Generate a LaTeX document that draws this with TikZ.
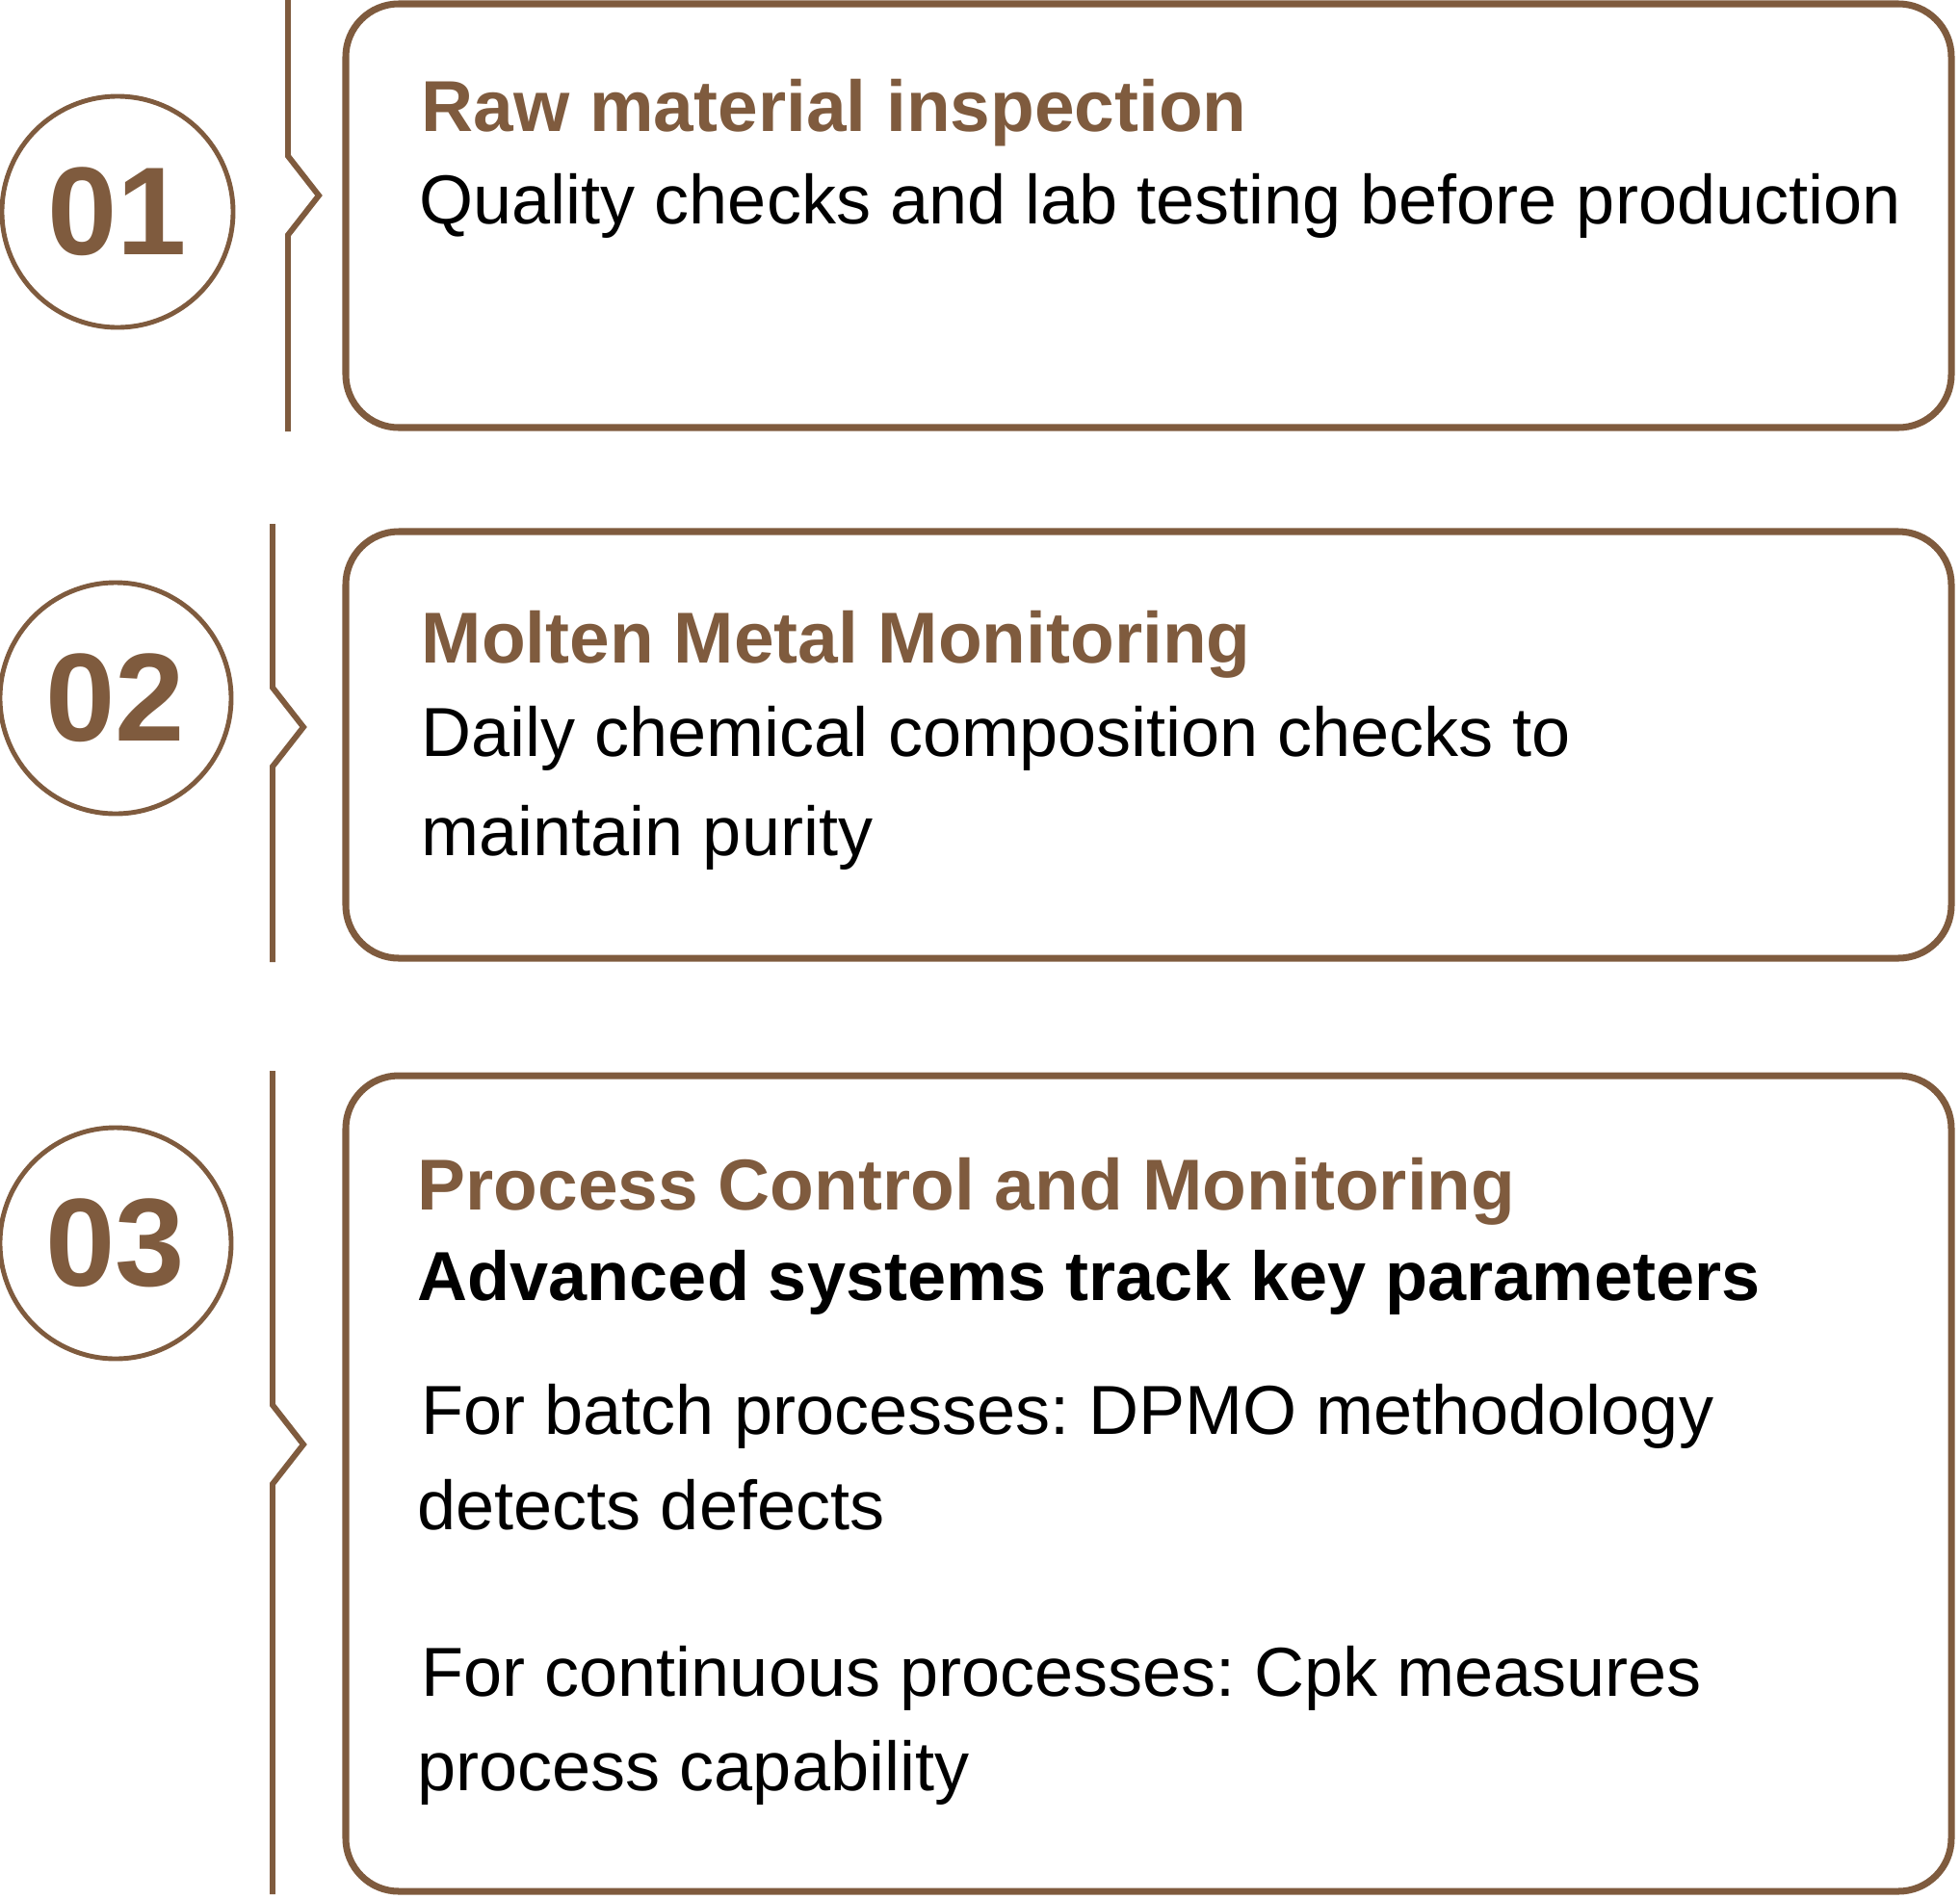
\documentclass[tikz,border=0pt]{standalone}
\usepackage{fontspec}
\setmainfont{Liberation Sans}
\usepackage{tikz}
\usetikzlibrary{positioning}
\definecolor{bronze}{RGB}{127,91,62}
\tikzset{
  card/.style={
    draw=bronze,
    line width=2pt,
    rounded corners=5.5mm
  },
  stepnum/.style={
    circle,
    draw=bronze,
    line width=1.4pt,
    minimum size=24mm,
    inner sep=0pt,
    text=bronze,
    font=\fontsize{37}{37}\selectfont\bfseries
  },
  cardtitle/.style={
    anchor=base west,
    inner sep=0pt,
    text=bronze,
    font=\fontsize{21.3}{25}\selectfont\bfseries
  },
  cardtext/.style={
    anchor=base west,
    inner sep=0pt,
    text=black,
    font=\fontsize{20.5}{25}\selectfont\frenchspacing
  },
  cardlead/.style={
    cardtext,
    font=\fontsize{20.5}{25}\selectfont\bfseries
  },
  rail/.style={
    draw=bronze,
    line width=1.7pt
  }
}
% rail with a notch: x, top, notch tip, bottom
\newcommand{\steprail}[4]{%
  \draw[rail] (#1,#2) -- (#1,#3+0.41) -- (#1+0.32,#3) -- (#1,#3-0.41) -- (#1,#4);%
}

\begin{document}
\begin{tikzpicture}
  \useasboundingbox (0,0) rectangle (20.35,-19.71);

  % Step 01
  \steprail{2.99}{0}{-2.03}{-4.48}
  \node[stepnum] (n1) at (1.22,-2.20) {01};
  \draw[card] (3.59,-0.04) rectangle (20.26,-4.44);
  \node[cardtitle] (c1-title) at (4.37,-1.36) {Raw material inspection};
  \node[cardtext] (c1-l1) at (4.35,-2.32) {Quality checks and lab testing before production};

  % Step 02
  \steprail{2.83}{-5.44}{-7.55}{-9.99}
  \node[stepnum] (n2) at (1.20,-7.25) {02};
  \draw[card] (3.59,-5.52) rectangle (20.26,-9.95);
  \node[cardtitle] (c2-title) at (4.37,-6.88) {Molten Metal Monitoring};
  \node[cardtext] (c2-l1) at (4.37,-7.85) {Daily chemical composition checks to};
  \node[cardtext] (c2-l2) at (4.37,-8.88) {maintain purity};

  % Step 03
  \steprail{2.83}{-11.12}{-15.00}{-19.67}
  \node[stepnum] (n3) at (1.20,-12.91) {03};
  \draw[card] (3.59,-11.17) rectangle (20.26,-19.64);
  \node[cardtitle] (c3-title) at (4.33,-12.56) {Process Control and Monitoring};
  \node[cardlead] (c3-l1) at (4.33,-13.50) {Advanced systems track key parameters};
  \node[cardtext] (c3-l2) at (4.37,-14.89) {For batch processes: DPMO methodology};
  \node[cardtext] (c3-l3) at (4.33,-15.88) {detects defects};
  \node[cardtext] (c3-l4) at (4.37,-17.61) {For continuous processes: Cpk measures};
  \node[cardtext] (c3-l5) at (4.33,-18.59) {process capability};
\end{tikzpicture}
\end{document}
